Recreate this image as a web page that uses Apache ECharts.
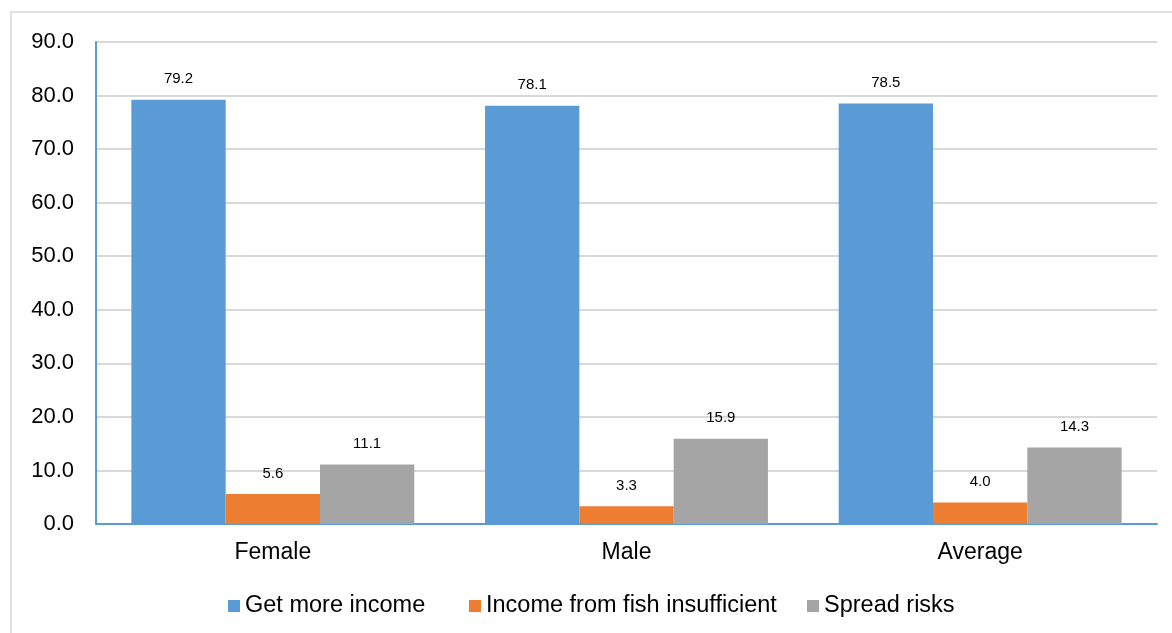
<!DOCTYPE html>
<html>
<head>
<meta charset="utf-8">
<script src="https://cdn.jsdelivr.net/npm/echarts@6/dist/echarts.min.js"></script>
<style>
  html, body { margin: 0; padding: 0; background: #fff; }
  #chart { width: 1172px; height: 633px; }
</style>
</head>
<body>
<div id="chart"></div>
<script>
// Reasons for diversifying income, by gender (%)
const categories = ['Female', 'Male', 'Average'];
const seriesNames = ['Get more income', 'Income from fish insufficient', 'Spread risks'];
const getMoreIncome = [79.2, 78.1, 78.5];
const fishInsufficient = [5.6, 3.3, 4.0];
const spreadRisks = [11.1, 15.9, 14.3];
const colors = ['#5B9BD5', '#ED7D31', '#A5A5A5'];

const font = '"Liberation Sans", Arial, sans-serif';
const values = [getMoreIncome, fishInsufficient, spreadRisks];
// legend entries sit in fixed columns along the bottom
const legendLefts = [228, 469, 807];

const chart = echarts.init(document.getElementById('chart'));
chart.setOption({
  animation: false,
  graphic: [{
    type: 'rect',
    shape: { x: 11, y: 12, width: 1200, height: 700 },
    style: { fill: 'none', stroke: '#d9d9d9', lineWidth: 1.5 },
    silent: true
  }],
  grid: { left: 96, right: 15, top: 42, bottom: 109 },
  legend: seriesNames.map((name, i) => ({
    top: 594,
    left: legendLefts[i],
    padding: 0,
    itemWidth: 12,
    itemHeight: 12,
    icon: 'rect',
    textStyle: { fontFamily: font, fontSize: 23.5, color: '#000' },
    data: [name]
  })),
  xAxis: {
    type: 'category',
    data: categories,
    axisLine: { lineStyle: { color: '#5B9BD5', width: 2 } },
    axisTick: { show: false },
    axisLabel: { fontFamily: font, fontSize: 23, color: '#000', margin: 17 }
  },
  yAxis: {
    type: 'value',
    min: 0,
    max: 90,
    interval: 10,
    axisLine: { show: true, lineStyle: { color: '#5B9BD5', width: 2 } },
    axisTick: { show: false },
    splitLine: { lineStyle: { color: '#d9d9d9', width: 2 } },
    axisLabel: {
      fontFamily: font, fontSize: 22, color: '#000', margin: 22,
      formatter: v => v.toFixed(1)
    }
  },
  series: seriesNames.map((name, i) => ({
    name,
    type: 'bar',
    data: values[i],
    barGap: '0%',
    barCategoryGap: '20%',
    itemStyle: { color: colors[i] },
    label: {
      show: true,
      position: 'top',
      distance: 13,
      fontFamily: font,
      fontSize: 15,
      color: '#000',
      formatter: p => p.value.toFixed(1)
    }
  }))
});
</script>
</body>
</html>
